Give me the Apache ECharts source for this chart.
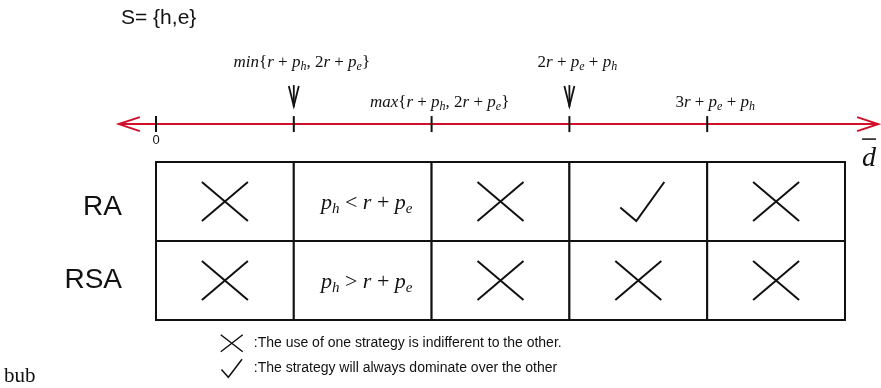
<!DOCTYPE html>
<html>
<head>
<meta charset="utf-8">
<script src="https://cdn.jsdelivr.net/npm/echarts@6/dist/echarts.min.js"></script>
<style>
    html, body { margin: 0; padding: 0; background: #fff; }
    #strategy_chart { width: 881px; height: 388px; }
</style>
</head>
<body>
<div id="strategy_chart"></div>
<script>
// rows from bottom to top
const rowNames = ['RSA', 'RA'];
const raCells = ['cross', 'lt', 'cross', 'check', 'cross'];
const rsaCells = ['cross', 'gt', 'cross', 'cross', 'cross'];
const conditionText = {
    lt: '{i|p}{s|h} < {i|r} + {i|p}{s|e}',
    gt: '{i|p}{s|h} > {i|r} + {i|p}{s|e}'
};

// number line
const tickValues = [0, 1, 2, 3, 4];
const tickLabels = [
    '0',
    '{i|min}{{i|r} + {i|p}{s|h}, 2{i|r} + {i|p}{s|e}}',
    '{i|max}{{i|r} + {i|p}{s|h}, 2{i|r} + {i|p}{s|e}}',
    '2{i|r} + {i|p}{s|e} + {i|p}{s|h}',
    '3{i|r} + {i|p}{s|e} + {i|p}{s|h}'
];
const pointedTicks = [1, 3];
const lineRange = [-0.27, 5.24];
const lineLevel = 2.48;

const legendNames = [
    ':The use of one strategy is indifferent to the other.',
    ':The strategy will always dominate over the other'
];

const RED = '#d2102c';
const INK = '#111';
const mathFont = '"Liberation Serif", "DejaVu Serif", serif';
const mathRich = (size) => ({
    i: { fontStyle: 'italic', fontFamily: mathFont, fontSize: size, lineHeight: size + 4 },
    s: { fontStyle: 'italic', fontFamily: mathFont, fontSize: Math.round(size * 0.68), lineHeight: Math.round(size * 0.5), verticalAlign: 'bottom' }
});

// build cell list
const cells = [];
[rsaCells, raCells].forEach((row, r) => {
    row.forEach((kind, c) => cells.push({ kind, value: [c, r] }));
});
const cellsOf = (kinds) => cells.filter(v => kinds.includes(v.kind));
const crossCells = cellsOf(['cross']);
const checkCells = cellsOf(['check']);
const textCells = cellsOf(['lt', 'gt']);

const cellCenter = (api) => api.coord([api.value(0) + 0.5, api.value(1) + 0.5]);

function renderCell(params, api) {
    const tl = api.coord([api.value(0), api.value(1) + 1]);
    const br = api.coord([api.value(0) + 1, api.value(1)]);
    return {
        type: 'rect',
        shape: { x: tl[0], y: tl[1], width: br[0] - tl[0], height: br[1] - tl[1] },
        style: { fill: '#fff', stroke: INK, lineWidth: 2 }
    };
}

function renderCross(params, api) {
    const c = cellCenter(api);
    const w = 23, h = 19.5;
    const style = { stroke: INK, lineWidth: 2 };
    return {
        type: 'group',
        children: [
            { type: 'line', shape: { x1: c[0] - w, y1: c[1] - h, x2: c[0] + w, y2: c[1] + h }, style },
            { type: 'line', shape: { x1: c[0] + w, y1: c[1] - h, x2: c[0] - w, y2: c[1] + h }, style }
        ]
    };
}

function renderCheck(params, api) {
    const c = cellCenter(api);
    return {
        type: 'polyline',
        shape: { points: [[c[0] - 18, c[1] + 6], [c[0] - 2, c[1] + 19.5], [c[0] + 26, c[1] - 19.5]] },
        style: { stroke: INK, lineWidth: 2, fill: null }
    };
}

function renderCondition(params, api) {
    const c = cellCenter(api);
    const kind = textCells[params.dataIndex].kind;
    return {
        type: 'text',
        style: {
            text: conditionText[kind],
            x: c[0] + 4, y: c[1] + 2,
            align: 'center', verticalAlign: 'middle',
            fontFamily: mathFont, fontSize: 22, lineHeight: 26, fill: INK,
            rich: mathRich(22)
        }
    };
}

function renderNumberLine(params, api) {
    const a = api.coord([lineRange[0], lineLevel]);
    const b = api.coord([lineRange[1], lineLevel]);
    const style = { stroke: RED, lineWidth: 2, fill: null };
    return {
        type: 'group',
        children: [
            { type: 'line', shape: { x1: a[0], y1: a[1], x2: b[0], y2: b[1] }, style },
            { type: 'polyline', shape: { points: [[a[0] + 21, a[1] - 7], [a[0], a[1]], [a[0] + 21, a[1] + 7]] }, style },
            { type: 'polyline', shape: { points: [[b[0] - 21, b[1] - 7], [b[0], b[1]], [b[0] - 21, b[1] + 7]] }, style },
            {
                type: 'text',
                style: {
                    text: 'd', x: b[0] - 9, y: b[1] + 35, align: 'center', verticalAlign: 'middle',
                    fontFamily: mathFont, fontStyle: 'italic', fontSize: 28, fill: INK
                }
            },
            { type: 'line', shape: { x1: b[0] - 16, y1: b[1] + 15, x2: b[0] - 2, y2: b[1] + 15 }, style: { stroke: INK, lineWidth: 1.5 } }
        ]
    };
}

function renderTick(params, api) {
    const i = params.dataIndex;
    const p = api.coord([api.value(0), api.value(1)]);
    const children = [
        { type: 'line', shape: { x1: p[0], y1: p[1] - 8, x2: p[0], y2: p[1] + 8 }, style: { stroke: INK, lineWidth: 2 } }
    ];
    const pointed = pointedTicks.includes(tickValues[i]);
    if (i === 0) {
        children.push({
            type: 'text',
            style: {
                text: tickLabels[i], x: p[0], y: p[1] + 16, align: 'center', verticalAlign: 'middle',
                fontFamily: 'Liberation Sans', fontSize: 13, fill: INK
            }
        });
    } else {
        children.push({
            type: 'text',
            style: {
                text: tickLabels[i], x: p[0] + 8, y: p[1] - (pointed ? 62 : 22),
                align: 'center', verticalAlign: 'middle',
                fontFamily: mathFont, fontSize: 17, lineHeight: 21, fill: INK,
                rich: mathRich(17)
            }
        });
    }
    if (pointed) {
        const s = { stroke: INK, lineWidth: 1.8, fill: null };
        children.push(
            { type: 'line', shape: { x1: p[0], y1: p[1] - 39, x2: p[0], y2: p[1] - 17 }, style: s },
            { type: 'polyline', shape: { points: [[p[0] - 5, p[1] - 38], [p[0], p[1] - 18], [p[0] + 5, p[1] - 38]] }, style: s }
        );
    }
    return { type: 'group', children };
}

const chart = echarts.init(document.getElementById('strategy_chart'));

chart.setOption({
    animation: false,
    backgroundColor: '#fff',
    title: {
        text: 'S= {h,e}',
        left: 116,
        top: 3,
        textStyle: { fontFamily: 'Liberation Sans', fontWeight: 'normal', fontSize: 21, color: INK }
    },
    legend: {
        orient: 'vertical',
        left: 220,
        top: 334,
        height: 50,
        padding: 0,
        itemWidth: 22,
        itemHeight: 18,
        itemGap: 6,
        selectedMode: false,
        textStyle: { fontFamily: 'Liberation Sans', fontSize: 14, color: INK, padding: [0, 0, 0, 6] },
        data: [
            { name: legendNames[0], icon: 'path://M0,0L22,17M22,0L0,17', itemStyle: { color: 'transparent', borderColor: INK, borderWidth: 1.5 } },
            { name: legendNames[1], icon: 'path://M0,12L8,21L24,0', itemStyle: { color: 'transparent', borderColor: INK, borderWidth: 1.5 } }
        ]
    },
    graphic: [{
        type: 'text', left: 4, top: 366,
        style: { text: 'bub', fontFamily: '"Liberation Serif", serif', fontSize: 21, fill: INK }
    }],
    grid: { left: 156, right: 36, top: 162, bottom: 68 },
    xAxis: { type: 'value', min: 0, max: 5, show: false },
    yAxis: [
        {
            type: 'category',
            data: rowNames,
            axisLine: { show: false },
            axisTick: { show: false },
            splitLine: { show: false },
            axisLabel: {
                fontFamily: 'Liberation Sans', fontSize: 28, color: INK, margin: 34,
                formatter: (name) => name === 'RA' ? '{lo|' + name + '}' : name,
                rich: { lo: { fontFamily: 'Liberation Sans', fontSize: 28, color: INK, padding: [12, 0, 0, 0] } }
            }
        },
        { type: 'value', min: 0, max: 2, show: false }
    ],
    series: [
        { type: 'custom', name: 'line', yAxisIndex: 1, clip: false, renderItem: renderNumberLine, data: [[lineRange[0], lineLevel]] },
        { type: 'custom', name: 'ticks', yAxisIndex: 1, clip: false, renderItem: renderTick, data: tickValues.map(v => [v, lineLevel]) },
        { type: 'custom', name: 'cells', yAxisIndex: 1, renderItem: renderCell, data: cells.map(v => v.value) },
        { type: 'custom', name: legendNames[0], yAxisIndex: 1, renderItem: renderCross, data: crossCells.map(v => v.value) },
        { type: 'custom', name: legendNames[1], yAxisIndex: 1, renderItem: renderCheck, data: checkCells.map(v => v.value) },
        { type: 'custom', name: 'conditions', yAxisIndex: 1, renderItem: renderCondition, data: textCells.map(v => v.value) }
    ]
});
</script>
</body>
</html>
